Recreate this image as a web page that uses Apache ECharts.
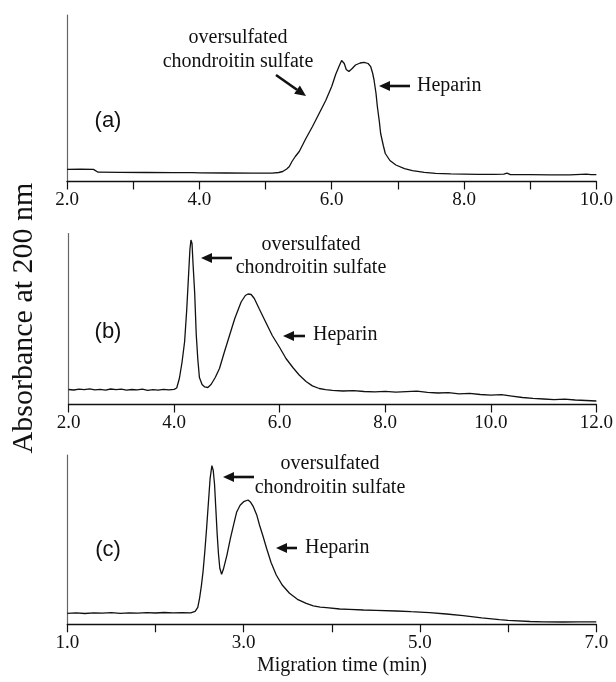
<!DOCTYPE html>
<html>
<head>
<meta charset="utf-8">
<script src="https://cdn.jsdelivr.net/npm/echarts@6/dist/echarts.min.js"></script>
<style>
  html, body { margin: 0; padding: 0; background: #fff; }
  #chart { width: 616px; height: 682px; }
</style>
</head>
<body>
<div id="chart"></div>
<script>
// electropherogram (a): migration time (min) / absorbance (arb.)
var timeA = [2.0, 2.2, 2.4, 2.43, 2.47, 2.8, 3.2, 3.6, 3.9, 4.0, 4.4, 4.8, 5.1, 5.2, 5.26, 5.32, 5.36, 5.40, 5.45, 5.51,
  5.61, 5.71, 5.81, 5.91, 6.0, 6.06, 6.11, 6.15, 6.17, 6.19, 6.22, 6.26, 6.31, 6.36, 6.43, 6.49, 6.55, 6.59, 6.62, 6.64,
  6.67, 6.69, 6.72, 6.74, 6.78, 6.81, 6.88, 6.97, 7.1, 7.22, 7.4, 7.57, 7.8, 8.0, 8.22, 8.45, 8.6, 8.65, 8.7, 9.0,
  9.3, 9.6, 9.85, 9.88, 9.92, 10.0];
var absA = [12.2, 12.4, 12.1, 10.5, 9.3, 9.1, 9.0, 8.8, 8.9, 8.6, 8.5, 8.3, 8.4, 9.0, 10, 12.5, 15, 20, 25, 30,
  43, 55, 68, 81, 95, 107, 115, 121, 121.5, 118, 112, 110, 113, 116.5, 118.5, 119.2, 118, 114.8, 108, 101.5,
  88, 75, 60, 48, 36, 28, 21, 16.5, 12.8, 10.8, 9.2, 8.2, 7.6, 7.4, 7.2, 7.1, 7.3, 8.4, 6.9, 6.8,
  6.6, 6.7, 7.3, 7.8, 6.9, 6.8];

// electropherogram (b)
var timeB = [2.0, 2.1, 2.2, 2.3, 2.4, 2.5, 2.6, 2.7, 2.8, 2.9, 3.0, 3.1, 3.2, 3.3, 3.4, 3.5, 3.6, 3.7, 3.8, 3.9,
  4.0, 4.05, 4.10, 4.15, 4.20, 4.24, 4.27, 4.30, 4.32, 4.34, 4.36, 4.39, 4.42, 4.45, 4.48, 4.53, 4.58, 4.64, 4.70, 4.78,
  4.86, 4.95, 5.05, 5.15, 5.27, 5.35, 5.40, 5.46, 5.52, 5.61, 5.73, 5.86, 6.0, 6.12, 6.25, 6.37, 6.5, 6.62, 6.75, 6.87,
  7.0, 7.2, 7.4, 7.6, 7.8, 8.0, 8.2, 8.4, 8.6, 8.8, 9.0, 9.2, 9.4, 9.6, 9.8, 10.0, 10.2, 10.4, 10.6, 10.8,
  11.0, 11.2, 11.4, 11.6, 11.8, 12.0];
var absB = [15, 14.5, 15.3, 14.8, 15.6, 14.6, 15.2, 14.4, 15.5, 14.9, 15.4, 14.3, 15.0, 14.6, 15.3, 14.2, 14.9, 14.4, 15.1, 14.6,
  15.2, 16.5, 26, 42, 63, 95, 125, 155, 164.5, 161, 140, 112, 70, 45, 27, 20, 17.6, 17, 20, 27,
  36, 52, 69, 86, 102.5, 109, 110.5, 110, 106, 96, 83, 69, 57, 46, 37, 29.5, 23, 18.6, 16, 14.8,
  14.2, 13.5, 13.9, 13.0, 12.6, 13.2, 12.4, 12.9, 13.3, 12.2, 11.5, 11.8, 10.6, 11.2, 10.0, 9.4, 9.8, 8.4, 7.0, 6.2,
  5.5, 4.8, 5.3, 4.5, 4.0, 3.5];

// electropherogram (c)
var timeC = [1.0, 1.1, 1.2, 1.3, 1.4, 1.5, 1.6, 1.7, 1.8, 1.9, 2.0, 2.1, 2.2, 2.3, 2.4, 2.45, 2.48, 2.50, 2.52, 2.54,
  2.56, 2.58, 2.60, 2.62, 2.64, 2.655, 2.67, 2.685, 2.70, 2.715, 2.73, 2.75, 2.77, 2.81, 2.85, 2.89, 2.92, 2.96, 3.0, 3.05,
  3.08, 3.11, 3.15, 3.18, 3.22, 3.26, 3.31, 3.37, 3.44, 3.52, 3.61, 3.71, 3.79, 3.87, 3.94, 4.09, 4.2, 4.36, 4.5, 4.73,
  4.9, 5.0, 5.11, 5.3, 5.49, 5.7, 5.9, 6.0, 6.25, 6.4, 6.62, 6.8, 7.0];
var absC = [11, 11.4, 10.8, 11.5, 11.1, 11.6, 11.0, 11.4, 11.2, 11.7, 11.3, 11.8, 11.4, 11.6, 11.5, 13, 17, 26, 38, 53,
  73, 96, 121, 146, 158.6, 154, 140, 115, 90, 70, 56, 50, 55, 69, 86, 101, 112, 119, 122.6, 124.3,
  122, 117.6, 109, 99.3, 88, 76, 62, 49.3, 39, 31, 25, 21, 18.5, 17.2, 16.6, 15.3, 15.0, 14.3, 14.0, 13.3,
  12.6, 12.2, 11.6, 10.3, 8.6, 6.5, 4.6, 4.0, 2.8, 2.4, 2.3, 2.5, 2.4];

var serif = 'Liberation Serif, Times New Roman, serif'
var sans = 'Liberation Sans, Arial, sans-serif'

function pairs(xs, ys) {
  return xs.map(function (x, i) { return [x, ys[i]] })
}

function xAxisOf(idx, min, max, interval, labelStep) {
  return {
    gridIndex: idx, type: 'value', min: min, max: max, interval: interval,
    axisLine: { show: true, onZero: false, lineStyle: { color: '#111', width: 1.3 } },
    axisTick: { show: true, inside: false, length: 8, lineStyle: { color: '#111', width: 1.2 } },
    splitLine: { show: false },
    axisLabel: {
      margin: 9, color: '#111', fontFamily: serif, fontSize: 19,
      formatter: function (v) {
        // only every second tick carries a label in (a) and (c)
        var k = Math.round((v - min) / interval)
        return k % labelStep === 0 ? v.toFixed(1) : ''
      }
    }
  }
}

function yAxisOf(idx, max) {
  return {
    gridIndex: idx, type: 'value', min: 0, max: max,
    axisLine: { show: true, lineStyle: { color: '#666', width: 1.2 } },
    axisTick: { show: false }, axisLabel: { show: false }, splitLine: { show: false }
  }
}

function trace(idx, data) {
  return {
    type: 'line', xAxisIndex: idx, yAxisIndex: idx, data: data,
    showSymbol: false, smooth: false, animation: false,
    lineStyle: { color: '#111', width: 1.3 }
  }
}

function txt(x, y, s, size, family, align) {
  return {
    type: 'text', x: x, y: y, silent: true,
    style: { text: s, fontSize: size, fontFamily: family, fill: '#111', align: align || 'center', verticalAlign: 'middle' }
  }
}

// arrow pointing from (x1,y1) to (x2,y2)
function arrow(x1, y1, x2, y2) {
  var a = Math.atan2(y2 - y1, x2 - x1)
  var L = 11, W = 5
  var bx = x2 - L * Math.cos(a), by = y2 - L * Math.sin(a)
  var px = -Math.sin(a) * W, py = Math.cos(a) * W
  return [
    { type: 'line', silent: true, shape: { x1: x1, y1: y1, x2: bx, y2: by }, style: { stroke: '#111', lineWidth: 2.6 } },
    { type: 'polygon', silent: true, shape: { points: [[x2, y2], [bx + px, by + py], [bx - px, by - py]] }, style: { fill: '#111' } }
  ]
}

var graphics = [
  txt(238, 38, 'oversulfated', 20, serif), txt(238, 62, 'chondroitin sulfate', 20, serif),
  txt(417, 86, 'Heparin', 20, serif, 'left'), txt(108, 121, '(a)', 22, sans),
  txt(311, 245, 'oversulfated', 20, serif), txt(311, 268, 'chondroitin sulfate', 20, serif),
  txt(313, 335, 'Heparin', 20, serif, 'left'), txt(108, 332, '(b)', 22, sans),
  txt(330, 464, 'oversulfated', 20, serif), txt(330, 488, 'chondroitin sulfate', 20, serif),
  txt(305, 548, 'Heparin', 20, serif, 'left'), txt(108, 550, '(c)', 22, sans),
  txt(342, 666, 'Migration time (min)', 20, serif),
  {
    type: 'text', x: 24, y: 318, rotation: Math.PI / 2, silent: true,
    style: { text: 'Absorbance at 200 nm', fontSize: 30, fontFamily: serif, fill: '#111', align: 'center', verticalAlign: 'middle' }
  }
]
graphics = graphics
  .concat(arrow(276, 75, 306, 96)).concat(arrow(410, 86, 379, 86))
  .concat(arrow(232, 258, 201, 258)).concat(arrow(305, 336, 283, 336))
  .concat(arrow(254, 477, 223, 477)).concat(arrow(297, 548, 276, 548))

var myChart = echarts.init(document.getElementById('chart'))
var option = {
  backgroundColor: '#fff',
  animation: false,
  grid: [
    { left: 67, top: 15, width: 531, height: 166.5 },
    { left: 68.5, top: 233.5, width: 530, height: 171 },
    { left: 67.3, top: 455, width: 529, height: 169.3 }
  ],
  xAxis: [
    xAxisOf(0, 2, 10, 1, 2),
    xAxisOf(1, 2, 12, 2, 1),
    xAxisOf(2, 1, 7, 1, 2)
  ],
  yAxis: [yAxisOf(0, 166.5), yAxisOf(1, 171), yAxisOf(2, 169.3)],
  series: [
    trace(0, pairs(timeA, absA)),
    trace(1, pairs(timeB, absB)),
    trace(2, pairs(timeC, absC))
  ],
  graphic: graphics
}
myChart.setOption(option)
</script>
</body>
</html>
